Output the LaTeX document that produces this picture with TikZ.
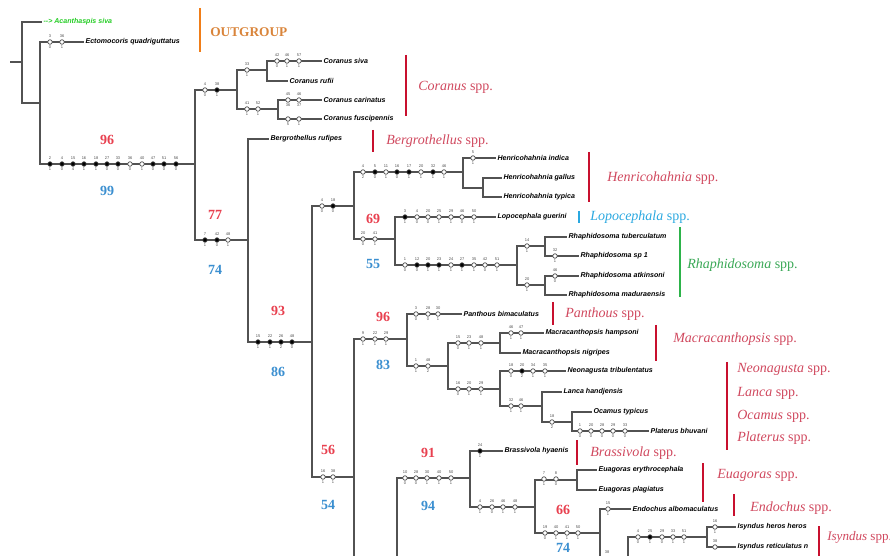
\documentclass[tikz,border=0pt]{standalone}
\usepackage{fontspec}
\setmainfont{Liberation Serif}
\setsansfont{Liberation Sans}
\definecolor{supred}{HTML}{E8404F}
\definecolor{supblue}{HTML}{3B8FD0}
\definecolor{grpred}{HTML}{D0485E}
\definecolor{barred}{HTML}{C8102E}
\definecolor{outbar}{HTML}{F07D18}
\definecolor{outtxt}{HTML}{D9843A}
\definecolor{lopblue}{HTML}{2AA8E0}
\definecolor{rhagreen}{HTML}{2DB34A}
\definecolor{rhatxt}{HTML}{3AA856}
\definecolor{acgreen}{HTML}{22CC22}
\newcommand\chs[5]{\node[chst, fill=#3, label={[cslab]90:#4}, label={[cslab]-90:#5}] (c#1-#2) at (#1,#2) {};}
\begin{document}
\begin{tikzpicture}[x=0.75pt,y=-0.75pt,
 treeline/.style={draw=black!68, line width=1.05pt},
 tip/.style={anchor=west, inner sep=1pt, font=\fontsize{5.3}{6}\selectfont\sffamily\bfseries\itshape},
 chst/.style={circle, draw=black!70, minimum size=3.4pt, inner sep=0pt, line width=0.5pt},
 cslab/.style={font=\fontsize{3}{3}\selectfont\sffamily, text=black!70, inner sep=0.4pt, label distance=0.6pt},
 supR/.style={font=\fontsize{10.5}{12}\selectfont\bfseries, text=supred},
 supB/.style={font=\fontsize{10.5}{12}\selectfont\bfseries, text=supblue},
 grp/.style={anchor=west, inner sep=0pt, font=\fontsize{10.5}{12}\selectfont, text=grpred},
 gbar/.style={line width=2.2pt, draw=barred}]
\path[use as bounding box] (0,0) rectangle (890,556);
\clip (0,0) rectangle (890,556);

% ---------- internal nodes ----------
\coordinate (R0) at (10,62);
\coordinate (R) at (22,62);
\coordinate (N1) at (40,103);
\coordinate (N2) at (195,164);
\coordinate (N3) at (237,90);
\coordinate (N4) at (267,70);
\coordinate (N5) at (278,109);
\coordinate (N6) at (248,240);
\coordinate (N7) at (312,342);
\coordinate (N8) at (354,206);
\coordinate (N9) at (463,172);
\coordinate (N10) at (483,188);
\coordinate (N11) at (395,239);
\coordinate (N12) at (517,265);
\coordinate (N13) at (545,246);
\coordinate (N14) at (545,285);
\coordinate (N15) at (354,477);
\coordinate (N16) at (407,339);
\coordinate (N17) at (448,366);
\coordinate (N18) at (500,343);
\coordinate (N19) at (500,389);
\coordinate (N20) at (542,406);
\coordinate (N21) at (572,422);
\coordinate (N23) at (470,478);
\coordinate (N24) at (535,507);
\coordinate (N25) at (577,480);
\coordinate (N26) at (600,533);
\coordinate (N28) at (707,537);
\coordinate (b1) at (354,570);
\coordinate (b2) at (397,570);
\coordinate (b3) at (600,570);
\coordinate (b4) at (628,570);

% ---------- tips ----------
\node[tip, text=acgreen] (tAcan) at (42,22) {-{}-> Acanthaspis siva};
\node[tip] (tEcto) at (84,42) {Ectomocoris quadriguttatus};
\node[tip] (tCsiva) at (322,61) {Coranus siva};
\node[tip] (tCrufii) at (288,81) {Coranus rufii};
\node[tip] (tCcar) at (322,100) {Coranus carinatus};
\node[tip] (tCfus) at (322,119) {Coranus fuscipennis};
\node[tip] (tBerg) at (269,139) {Bergrothellus rufipes};
\node[tip] (tHind) at (496,158) {Henricohahnia indica};
\node[tip] (tHgal) at (502,178) {Henricohahnia gallus};
\node[tip] (tHtyp) at (502,197) {Henricohahnia typica};
\node[tip] (tLop) at (496,217) {Lopocephala guerini};
\node[tip] (tRtub) at (567,237) {Rhaphidosoma tuberculatum};
\node[tip] (tRsp) at (579,256) {Rhaphidosoma sp 1};
\node[tip] (tRatk) at (579,276) {Rhaphidosoma atkinsoni};
\node[tip] (tRmad) at (567,295) {Rhaphidosoma maduraensis};
\node[tip] (tPan) at (462,314) {Panthous bimaculatus};
\node[tip] (tMham) at (544,333) {Macracanthopsis hampsoni};
\node[tip] (tMnig) at (521,353) {Macracanthopsis nigripes};
\node[tip] (tNeo) at (566,371) {Neonagusta tribulentatus};
\node[tip] (tLan) at (562,392) {Lanca handjensis};
\node[tip] (tOca) at (592,412) {Ocamus typicus};
\node[tip] (tPla) at (649,431) {Platerus bhuvani};
\node[tip] (tBra) at (503,451) {Brassivola hyaenis};
\node[tip] (tEery) at (597,470) {Euagoras erythrocephala};
\node[tip] (tEpla) at (597,490) {Euagoras plagiatus};
\node[tip] (tEnd) at (631,509) {Endochus albomaculatus};
\node[tip] (tIher) at (736,527) {Isyndus heros heros};
\node[tip] (tIret) at (736,547) {Isyndus reticulatus n};

% ---------- branches ----------
\draw[treeline] (R0) -- (R);
\draw[treeline] (R) |- (tAcan.west);
\draw[treeline] (R) |- (N1);
\draw[treeline] (N1) |- (tEcto.west);
\draw[treeline] (N1) |- (N2);
\draw[treeline] (N2) |- (N3);
\draw[treeline] (N3) |- (N4);
\draw[treeline] (N4) |- (tCsiva.west);
\draw[treeline] (N4) |- (tCrufii.west);
\draw[treeline] (N3) |- (N5);
\draw[treeline] (N5) |- (tCcar.west);
\draw[treeline] (N5) |- (tCfus.west);
\draw[treeline] (N2) |- (N6);
\draw[treeline] (N6) |- (tBerg.west);
\draw[treeline] (N6) |- (N7);
\draw[treeline] (N7) |- (N8);
\draw[treeline] (N8) |- (N9);
\draw[treeline] (N9) |- (tHind.west);
\draw[treeline] (N9) |- (N10);
\draw[treeline] (N10) |- (tHgal.west);
\draw[treeline] (N10) |- (tHtyp.west);
\draw[treeline] (N8) |- (N11);
\draw[treeline] (N11) |- (tLop.west);
\draw[treeline] (N11) |- (N12);
\draw[treeline] (N12) |- (N13);
\draw[treeline] (N13) |- (tRtub.west);
\draw[treeline] (N13) |- (tRsp.west);
\draw[treeline] (N12) |- (N14);
\draw[treeline] (N14) |- (tRatk.west);
\draw[treeline] (N14) |- (tRmad.west);
\draw[treeline] (N7) |- (N15);
\draw[treeline] (N15) |- (N16);
\draw[treeline] (N15) -- (b1);
\draw[treeline] (N16) |- (tPan.west);
\draw[treeline] (N16) |- (N17);
\draw[treeline] (N17) |- (N18);
\draw[treeline] (N18) |- (tMham.west);
\draw[treeline] (N18) |- (tMnig.west);
\draw[treeline] (N17) |- (N19);
\draw[treeline] (N19) |- (tNeo.west);
\draw[treeline] (N19) |- (N20);
\draw[treeline] (N20) |- (tLan.west);
\draw[treeline] (N20) |- (N21);
\draw[treeline] (N21) |- (tOca.west);
\draw[treeline] (N21) |- (tPla.west);
\draw[treeline] (b2) |- (N23);
\draw[treeline] (N23) |- (tBra.west);
\draw[treeline] (N23) |- (N24);
\draw[treeline] (N24) |- (N25);
\draw[treeline] (N25) |- (tEery.west);
\draw[treeline] (N25) |- (tEpla.west);
\draw[treeline] (N24) |- (N26);
\draw[treeline] (N26) |- (tEnd.west);
\draw[treeline] (N26) -- (b3);
\draw[treeline] (b4) |- (N28);
\draw[treeline] (N28) |- (tIher.west);
\draw[treeline] (N28) |- (tIret.west);

% ---------- character states ----------
\foreach \x/\f/\t/\b in {50/white/3/0, 62/white/36/1} {\chs{\x}{42}{\f}{\t}{\b}}
\foreach \x/\f/\t/\b in {50/black/2/1, 62/black/4/0, 73/black/15/4, 84/black/16/1, 96/black/18/1, 107/black/27/0, 118/black/33/0, 130/white/36/0, 142/white/40/1, 153/black/47/0, 164/black/51/0, 176/black/56/0} {\chs{\x}{164}{\f}{\t}{\b}}
\foreach \x/\f/\t/\b in {205/white/4/0, 217/black/38/1} {\chs{\x}{90}{\f}{\t}{\b}}
\foreach \x/\f/\t/\b in {247/white/33/1} {\chs{\x}{70}{\f}{\t}{\b}}
\foreach \x/\f/\t/\b in {277/white/42/0, 287/white/46/1, 299/white/57/1} {\chs{\x}{61}{\f}{\t}{\b}}
\foreach \x/\f/\t/\b in {247/white/41/1, 258/white/52/1} {\chs{\x}{109}{\f}{\t}{\b}}
\foreach \x/\f/\t/\b in {288/white/45/36, 299/white/46/37} {\chs{\x}{100}{\f}{\t}{\b}}
\foreach \x/\f/\t/\b in {288/white//5, 299/white//1} {\chs{\x}{119}{\f}{\t}{\b}}
\foreach \x/\f/\t/\b in {205/black/7/1, 217/black/42/0, 228/white/48/1} {\chs{\x}{240}{\f}{\t}{\b}}
\foreach \x/\f/\t/\b in {258/black/15/1, 270/black/22/1, 281/black/26/2, 292/black/48/0} {\chs{\x}{342}{\f}{\t}{\b}}
\foreach \x/\f/\t/\b in {322/white/4/0, 333/black/18/0} {\chs{\x}{206}{\f}{\t}{\b}}
\foreach \x/\f/\t/\b in {363/white/4/2, 375/black/5/0, 386/white/11/1, 397/black/16/0, 409/black/17/1, 421/white/20/1, 433/black/32/1, 444/white/46/1} {\chs{\x}{172}{\f}{\t}{\b}}
\foreach \x/\f/\t/\b in {473/white/5/1} {\chs{\x}{158}{\f}{\t}{\b}}
\foreach \x/\f/\t/\b in {363/white/20/0, 375/white/41/1} {\chs{\x}{239}{\f}{\t}{\b}}
\foreach \x/\f/\t/\b in {405/black/3/1, 417/white/4/0, 428/white/20/0, 439/white/25/1, 451/white/29/1, 462/white/46/0, 474/white/50/1} {\chs{\x}{217}{\f}{\t}{\b}}
\foreach \x/\f/\t/\b in {405/white/1/0, 417/black/12/0, 428/black/20/1, 439/black/23/1, 451/white/24/1, 462/black/27/1, 474/white/35/1, 485/white/42/0, 497/white/51/1} {\chs{\x}{265}{\f}{\t}{\b}}
\foreach \x/\f/\t/\b in {527/white/14/1} {\chs{\x}{246}{\f}{\t}{\b}}
\foreach \x/\f/\t/\b in {527/white/20/1} {\chs{\x}{285}{\f}{\t}{\b}}
\foreach \x/\f/\t/\b in {555/white/32/1} {\chs{\x}{256}{\f}{\t}{\b}}
\foreach \x/\f/\t/\b in {555/white/46/0} {\chs{\x}{276}{\f}{\t}{\b}}
\foreach \x/\f/\t/\b in {363/white/9/1, 375/white/22/1, 386/white/29/1} {\chs{\x}{339}{\f}{\t}{\b}}
\foreach \x/\f/\t/\b in {416/white/3/0, 428/white/28/0, 438/white/30/1} {\chs{\x}{314}{\f}{\t}{\b}}
\foreach \x/\f/\t/\b in {416/white/1/1, 428/white/48/2} {\chs{\x}{366}{\f}{\t}{\b}}
\foreach \x/\f/\t/\b in {458/white/15/0, 469/white/23/1, 481/white/48/1} {\chs{\x}{343}{\f}{\t}{\b}}
\foreach \x/\f/\t/\b in {511/white/46/1, 521/white/47/1} {\chs{\x}{333}{\f}{\t}{\b}}
\foreach \x/\f/\t/\b in {458/white/16/0, 469/white/20/1, 481/white/29/1} {\chs{\x}{389}{\f}{\t}{\b}}
\foreach \x/\f/\t/\b in {511/white/18/0, 522/black/20/2, 533/white/34/1, 545/white/35/1} {\chs{\x}{371}{\f}{\t}{\b}}
\foreach \x/\f/\t/\b in {511/white/32/1, 521/white/46/1} {\chs{\x}{406}{\f}{\t}{\b}}
\foreach \x/\f/\t/\b in {552/white/18/2} {\chs{\x}{422}{\f}{\t}{\b}}
\foreach \x/\f/\t/\b in {580/white/1/0, 591/white/20/0, 602/white/28/0, 613/white/29/0, 625/white/33/0} {\chs{\x}{431}{\f}{\t}{\b}}
\foreach \x/\f/\t/\b in {323/white/16/1, 333/white/38/1} {\chs{\x}{477}{\f}{\t}{\b}}
\foreach \x/\f/\t/\b in {405/white/10/0, 416/white/28/0, 427/white/30/1, 439/white/40/1, 451/white/50/1} {\chs{\x}{478}{\f}{\t}{\b}}
\foreach \x/\f/\t/\b in {480/black/24/1} {\chs{\x}{451}{\f}{\t}{\b}}
\foreach \x/\f/\t/\b in {480/white/4/1, 492/white/26/0, 503/white/46/1, 515/white/48/1} {\chs{\x}{507}{\f}{\t}{\b}}
\foreach \x/\f/\t/\b in {544/white/7/1, 556/white/8/0} {\chs{\x}{479}{\f}{\t}{\b}}
\foreach \x/\f/\t/\b in {545/white/19/0, 556/white/40/1, 567/white/41/1, 578/white/50/1} {\chs{\x}{533}{\f}{\t}{\b}}
\foreach \x/\f/\t/\b in {608/white/15/1} {\chs{\x}{509}{\f}{\t}{\b}}
\foreach \x/\f/\t/\b in {638/white/4/0, 650/black/25/1, 662/white/29/0, 673/white/33/1, 684/white/51/1} {\chs{\x}{537}{\f}{\t}{\b}}
\foreach \x/\f/\t/\b in {715/white/16/1} {\chs{\x}{527}{\f}{\t}{\b}}
\foreach \x/\f/\t/\b in {715/white/38/} {\chs{\x}{547}{\f}{\t}{\b}}
\node[cslab] (lab38) at (607,552) {38};

% ---------- support values ----------
\node[supR] (s1a) at (107,140) {96}; \node[supB] (s1b) at (107,191) {99};
\node[supR] (s2a) at (215,215) {77}; \node[supB] (s2b) at (215,270) {74};
\node[supR] (s3a) at (278,311) {93}; \node[supB] (s3b) at (278,372) {86};
\node[supR] (s4a) at (373,219) {69}; \node[supB] (s4b) at (373,264) {55};
\node[supR] (s5a) at (383,317) {96}; \node[supB] (s5b) at (383,365) {83};
\node[supR] (s6a) at (328,450) {56}; \node[supB] (s6b) at (328,505) {54};
\node[supR] (s7a) at (428,453) {91}; \node[supB] (s7b) at (428,506) {94};
\node[supR] (s8a) at (563,510) {66}; \node[supB] (s8b) at (563,548) {74};

% ---------- group bars and labels ----------
\draw[gbar, draw=outbar] (200,8) -- (200,52);
\node[anchor=west, inner sep=0pt, font=\fontsize{10}{11}\selectfont\bfseries, text=outtxt] (gOut) at (210,32) {OUTGROUP};
\draw[gbar] (406,55) -- (406,116);
\node[grp] (gCor) at (418,87) {\textit{Coranus} spp.};
\draw[gbar] (373,130) -- (373,152);
\node[grp] (gBer) at (386,141) {\textit{Bergrothellus} spp.};
\draw[gbar] (589,152) -- (589,202);
\node[grp] (gHen) at (607,178) {\textit{Henricohahnia} spp.};
\draw[gbar, draw=lopblue] (579,211) -- (579,223);
\node[grp, text=lopblue] (gLop) at (590,217) {\textit{Lopocephala} spp.};
\draw[gbar, draw=rhagreen] (680,227) -- (680,297);
\node[grp, text=rhatxt] (gRha) at (687,265) {\textit{Rhaphidosoma} spp.};
\draw[gbar] (553,302) -- (553,325);
\node[grp] (gPan) at (565,314) {\textit{Panthous} spp.};
\draw[gbar] (656,325) -- (656,361);
\node[grp] (gMac) at (673,339) {\textit{Macracanthopsis} spp.};
\draw[gbar] (727,362) -- (727,450);
\node[grp] (gNeo) at (737,369) {\textit{Neonagusta} spp.};
\node[grp] (gLan) at (737,393) {\textit{Lanca} spp.};
\node[grp] (gOca) at (737,416) {\textit{Ocamus} spp.};
\node[grp] (gPla) at (737,438) {\textit{Platerus} spp.};
\draw[gbar] (577,440) -- (577,465);
\node[grp] (gBra) at (590,453) {\textit{Brassivola} spp.};
\draw[gbar] (703,463) -- (703,502);
\node[grp] (gEua) at (717,475) {\textit{Euagoras} spp.};
\draw[gbar] (734,494) -- (734,516);
\node[grp] (gEnd) at (750,508) {\textit{Endochus} spp.};
\draw[gbar] (819,526) -- (819,560);
\node[grp, font=\fontsize{9.8}{11}\selectfont] (gIsy) at (827,537) {\textit{Isyndus} spp.};
\end{tikzpicture}
\end{document}
